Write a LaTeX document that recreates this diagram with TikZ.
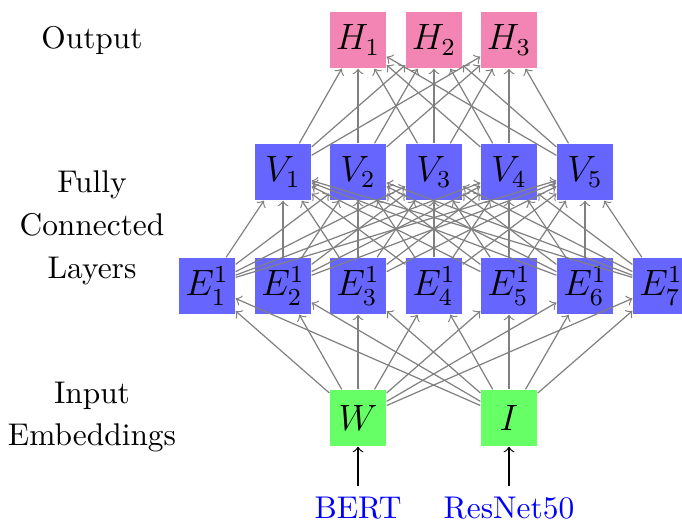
\documentclass[tikz,border=0pt]{standalone}
\definecolor{hpink}{RGB}{242,133,180}
\definecolor{vblue}{RGB}{102,102,255}
\definecolor{igreen}{RGB}{102,255,102}
\begin{document}
\begin{tikzpicture}[x=0.328pt,y=-0.328pt,
  box/.style={minimum size=18.4pt,inner sep=0pt,font=\large},
  hbox/.style={box,fill=hpink},
  vbox/.style={box,fill=vblue},
  ibox/.style={box,fill=igreen},
  conn/.style={->,gray,line width=0.4pt},
  lab/.style={align=center,font=\fontsize{10.3}{14}\selectfont}]
\useasboundingbox (0,0) rectangle (682,521);
\foreach \i/\x in {1/358,2/434,3/509}
  \node[hbox] (H\i) at (\x,40) {$H_\i$};
\foreach \i/\x in {1/283,2/358,3/434,4/509,5/585}
  \node[vbox] (V\i) at (\x,172) {$V_\i$};
\foreach \i/\x in {1/207,2/283,3/358,4/434,5/509,6/585,7/661}
  \node[vbox] (E\i) at (\x,286) {$E^1_\i$};
\node[ibox] (W) at (358,418) {$W$};
\node[ibox] (I) at (509,418) {$I$};
\node[blue,font=\fontsize{10.3}{12}\selectfont] (bert) at (358,508) {BERT};
\node[blue,font=\fontsize{10.3}{12}\selectfont] (resnet) at (509,508) {ResNet50};
\draw[->] (bert) -- (W);
\draw[->] (resnet) -- (I);
\foreach \a in {W,I}
  \foreach \b in {1,...,7}
    \draw[conn] (\a) -- (E\b);
\foreach \a in {1,...,7}
  \foreach \b in {1,...,5}
    \draw[conn] (E\a) -- (V\b);
\foreach \a in {1,...,5}
  \foreach \b in {1,...,3}
    \draw[conn] (V\a) -- (H\b);
\node[lab] (lout) at (92,40) {Output};
\node[lab] (lfc) at (92,228) {Fully\\Connected\\Layers};
\node[lab] (lin) at (92,417) {Input\\Embeddings};
\end{tikzpicture}
\end{document}
